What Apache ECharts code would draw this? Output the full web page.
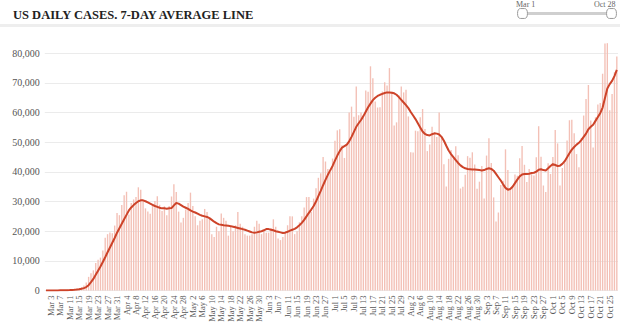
<!DOCTYPE html>
<html><head><meta charset="utf-8">
<script src="https://cdn.jsdelivr.net/npm/echarts@6/dist/echarts.min.js"></script>
<style>html,body{margin:0;padding:0;background:#fff}#c{width:640px;height:325px}</style>
</head><body><div id="c"></div>
<script>
// ---- data ----
const months = ['Mar','Apr','May','Jun','Jul','Aug','Sep','Oct'];
const monthDays = [31,30,31,30,31,31,30,28];

const casesMar = [8,22,21,28,75,70,118,65,174,290,296,460,550,650,760,1130,1700,2700,4600,5800,6800,9300,10400,11100,13500,17800,19000,19600,19300,21900,26100];
const casesApr = [25400,28800,32100,33300,25600,29500,30700,31500,34800,34000,30200,27700,26600,25900,28700,30200,31800,28900,26800,28400,25400,28500,31700,35800,33200,26600,22900,24500,27300,29500];
const casesMay = [33000,28500,25000,22000,23500,24000,27500,26500,24500,19000,18000,21500,20000,26000,24500,23500,18500,21500,20000,22000,26500,22500,21500,19000,18500,18500,19000,21500,23500,22500,19000];
const casesJun = [20500,19500,19500,21000,24000,21500,17500,17000,18000,20000,22000,25000,25000,19000,20000,23000,25000,28000,31500,31500,26500,31000,34500,38000,39500,45000,43500,41000,40000,44500];
const casesJul = [50500,54000,54400,49000,44700,49200,60000,62000,58600,68800,59100,60000,58300,67400,67000,75600,71600,63700,61700,61800,67100,70200,69100,75000,67000,55600,56700,65800,68800,66800,67700];
const casesAug = [58700,46600,46500,53900,53700,58400,61200,54500,47000,49200,55200,53300,51800,60000,51300,42600,35100,44400,47400,44900,48600,45600,34400,35000,39000,45300,44800,46600,42500,34300,36700];
const casesSep = [42000,31000,45500,51300,43000,31400,23300,26300,35600,37000,47600,40600,34300,35500,39100,38700,44600,48700,42400,36600,41000,39200,38800,44900,55400,45100,35400,33200,42900,39300];
const casesOct = [45000,54100,49600,35400,41300,44000,50600,57400,57600,53000,46000,41600,51400,59000,64600,69300,57300,48200,58400,62700,63200,73100,83300,83400,60800,66300,73600,78900];

const avgMar = [10,15,17,20,30,40,50,55,75,105,140,190,250,320,420,580,800,1150,1800,2800,3900,5300,6700,8100,9600,11200,12900,14500,16100,17700,19500];
const avgApr = [21000,22500,24000,25500,27000,28000,28800,29500,30100,30400,30400,30100,29700,29300,28900,28500,28200,27900,27700,27700,27600,27700,27800,28700,29500,29300,28800,28300,27900,27500];
const avgMay = [27000,26600,26300,25900,25500,25200,25000,24800,24400,23800,23200,22700,22300,22200,22000,21900,21800,21700,21500,21300,21100,20900,20700,20500,20200,19900,19600,19500,19600,19800,20000];
const avgJun = [20300,20700,20700,20500,20300,20000,19800,19600,19400,19500,19800,20200,20500,20800,21300,22000,22800,23800,25000,26200,27300,28500,30000,31800,33600,35500,37300,39000,40500,42000];
const avgJul = [43800,45500,47000,48200,48700,49200,50300,51800,53500,55200,56400,57500,58800,60300,61800,63000,64200,65000,65600,66000,66300,66600,66800,66800,66700,66500,66000,65200,64300,63400,62500];
const avgAug = [61500,60200,59000,57800,56400,55000,53600,52800,52400,52300,52700,53000,52900,52600,51800,50500,48800,47200,46000,45000,44000,43000,42200,41600,41200,41000,40900,40800,40800,40700,40600];
const avgSep = [40500,40600,41000,41200,41000,40400,39300,38200,37100,35800,34600,34000,34200,35000,36200,37400,38500,39100,39300,39300,39400,39600,39700,40100,40700,40900,40600,40500,41200,42000];
const avgOct = [42600,42300,42000,42100,42700,43600,44900,46300,47500,48400,49200,49800,50700,51800,52900,54400,55200,55900,57200,58500,59800,61700,64900,68100,69600,70700,72300,74400];

const yTicks = [0,10000,20000,30000,40000,50000,60000,70000,80000];
const titleText = 'US DAILY CASES. 7-DAY AVERAGE LINE';
const rangeLabels = ['Mar 1','Oct 28'];

// ---- build ----
const categories = [];
months.forEach((m,i)=>{ for(let d=1; d<=monthDays[i]; d++) categories.push(m+' '+d); });
const dailyCases = [].concat(casesMar,casesApr,casesMay,casesJun,casesJul,casesAug,casesSep,casesOct);
const avgLine = [].concat(avgMar,avgApr,avgMay,avgJun,avgJul,avgAug,avgSep,avgOct);

const serif = 'Liberation Serif';
const chart = echarts.init(document.getElementById('c'), null, {renderer:'svg'});
const splitColors = yTicks.map(()=> '#ebebeb').concat(['rgba(0,0,0,0)']);

chart.setOption({
  animation:false,
  backgroundColor:'#fff',
  title:{ text:titleText, left:8, top:3, textStyle:{fontFamily:serif, fontWeight:'bold', fontSize:12.5, color:'#222'} },
  grid:{ left:44.8, right:22, top:23.6, bottom:34.5 },
  xAxis:{ type:'category', data:categories, boundaryGap:true,
    axisLine:{show:false}, axisTick:{show:false},
    axisLabel:{ interval:(i)=> i%4===2, rotate:90, fontFamily:serif, fontSize:8.5, color:'#555', margin:5 } },
  yAxis:{ type:'value', min:0, max:90000, interval:10000,
    axisLine:{show:false}, axisTick:{show:false},
    axisLabel:{ showMaxLabel:false, fontFamily:serif, fontSize:10, color:'#555', margin:5,
      formatter:(v)=> v.toLocaleString('en-US') },
    splitLine:{ lineStyle:{ color:splitColors, width:1 } } },
  dataZoom:[{ type:'slider', xAxisIndex:0, start:0, end:100, filterMode:'none',
    left:520, right:29, top:12, height:3,
    showDetail:false, showDataShadow:false, brushSelect:false,
    backgroundColor:'#dedede', fillerColor:'#cfcfcf', borderColor:'transparent',
    moveHandleSize:0, moveHandleStyle:{opacity:0},
    handleIcon:'path://M3,0 H7 A3,5 0 0 1 7,10 H3 A3,5 0 0 1 3,0 Z',
    handleSize:'330%', handleStyle:{color:'#fff', borderColor:'#999', borderWidth:1},
    dataBackground:{lineStyle:{opacity:0}, areaStyle:{opacity:0}} }],
  graphic:[
    { type:'rect', shape:{x:0, y:24, width:620, height:3}, style:{fill:'#eeeeee'}, z:-1 },
    { type:'text', left:516, top:0, style:{ text:rangeLabels[0], font:'8px '+serif, fill:'#666' } },
    { type:'text', left:594, top:0, style:{ text:rangeLabels[1], font:'8px '+serif, fill:'#666' } }
  ],
  series:[
    { type:'bar', data:dailyCases, barCategoryGap:'42%', itemStyle:{color:'#f3c0b6'}, silent:true },
    { type:'line', data:avgLine, symbol:'none', lineStyle:{color:'#cd4329', width:2}, silent:true, z:3 }
  ]
});
</script></body></html>
